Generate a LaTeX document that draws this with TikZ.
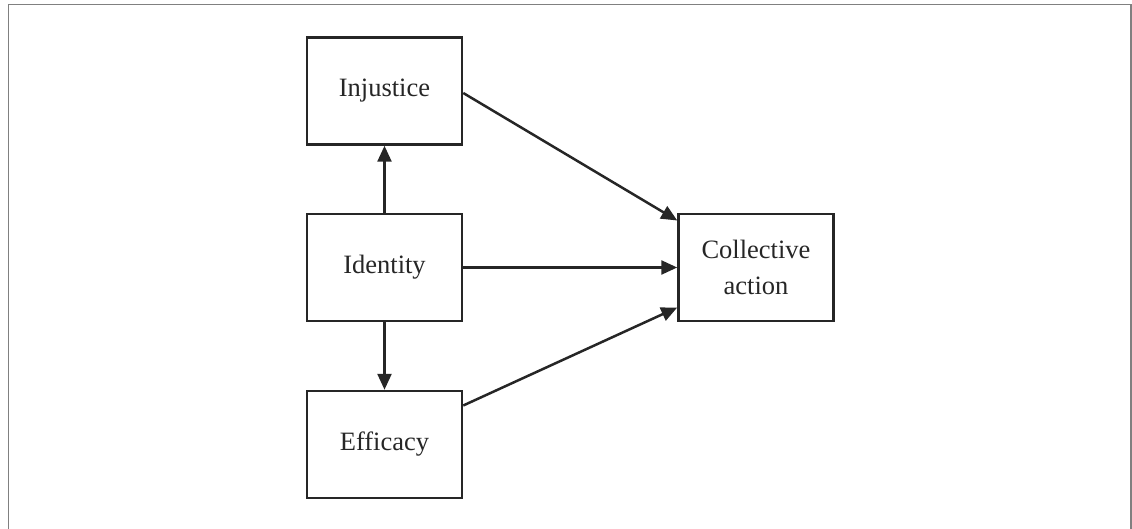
\documentclass[tikz,border=0pt]{standalone}
\usepackage{fontspec}
\setmainfont{Liberation Serif}
\usetikzlibrary{arrows.meta}
\begin{document}
\begin{tikzpicture}[x=1pt,y=-1pt,
  box/.style={draw=black!85,line width=2.5pt,minimum width=155pt,minimum height=107pt,inner sep=0pt,align=center,font=\fontsize{26.5}{36}\selectfont,text=black!85},
  arr/.style={draw=black!85,line width=2.5pt,-{Triangle[length=16pt,width=14pt]}},
  frame/.style={draw=black!50,line width=1.5pt}]
\useasboundingbox (0,0) rectangle (1132,529);
\draw[frame] (8.5,529) -- (8.5,4.5) -- (1131,4.5) -- (1131,529);
\node[box] (inj) at (384.5,91) {Injustice};
\node[box] (idt) at (384.5,267.5) {Identity};
\node[box] (eff) at (384.5,444.5) {Efficacy};
\node[box] (ca) at (756,267.5) {Collective\\action};
\draw[arr] (idt.north) -- (inj.south);
\draw[arr] (idt.south) -- (eff.north);
\draw[arr] ([yshift=-2pt]inj.east) -- ([yshift=47pt]ca.west);
\draw[arr] (idt.east) -- (ca.west);
\draw[arr] ([yshift=39pt]eff.east) -- ([yshift=-40pt]ca.west);
\end{tikzpicture}
\end{document}
